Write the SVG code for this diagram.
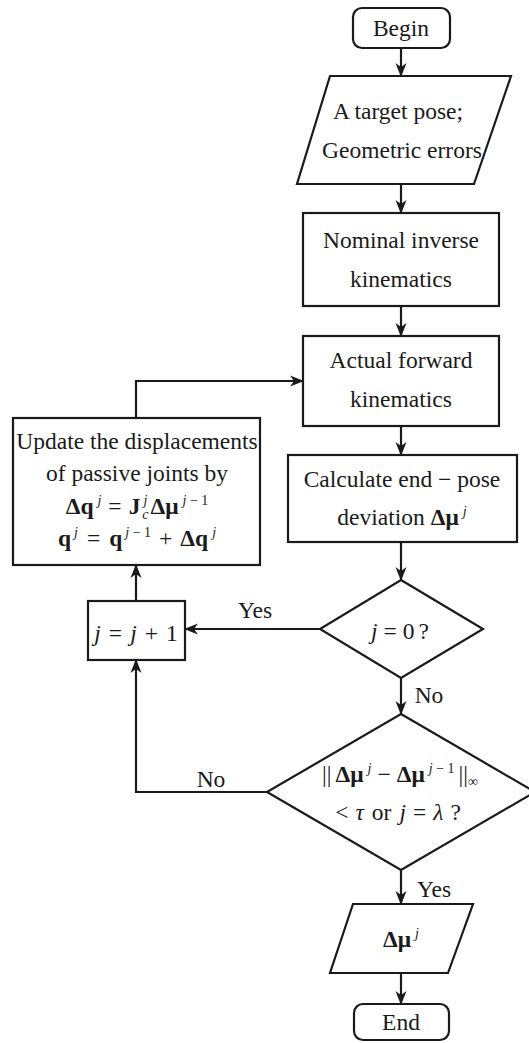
<svg xmlns="http://www.w3.org/2000/svg" width="529" height="1043" viewBox="0 0 529 1043">
<defs>
<marker id="ah" markerUnits="userSpaceOnUse" markerWidth="14" markerHeight="12" viewBox="0 0 14 12" refX="13" refY="6" orient="auto">
<path d="M0,0.5 L14,6 L0,11.5 L4,6 Z" fill="#1a1a1a"/>
</marker>
</defs>
<style>
.s{fill:#fff;stroke:#1a1a1a;stroke-width:2.2}
.c{fill:none;stroke:#1a1a1a;stroke-width:2.2;marker-end:url(#ah)}
text{font-family:'Liberation Serif','Times New Roman',serif;font-size:23.5px;fill:#1a1a1a;text-anchor:middle}
.i{font-style:italic}
.b{font-weight:bold}
.sup{font-size:14px;font-style:italic}
.n{font-size:14px}
</style>
<rect width="529" height="1043" fill="#fff"/>
<g id="connectors">
<path class="c" d="M401,48 V76"/>
<path class="c" d="M401,184 V213"/>
<path class="c" d="M401,306 V336"/>
<path class="c" d="M401,426 V455"/>
<path class="c" d="M401,542 V580"/>
<path class="c" d="M320,629 H185"/>
<path class="c" d="M136,601 V565"/>
<path class="c" d="M136,418 V381 H303"/>
<path class="c" d="M401,678 V714"/>
<path class="c" d="M267,792 H136 V660"/>
<path class="c" d="M401,870 V904"/>
<path class="c" d="M401,973 V1004"/>
<text x="255" y="618">Yes</text>
<text x="429" y="703">No</text>
<text x="211" y="787">No</text>
<text x="434" y="897">Yes</text>
</g>
<g id="begin">
<rect class="s" x="353" y="8" width="97" height="40" rx="9"/>
<text x="401" y="36">Begin</text>
</g>
<g id="input">
<polygon class="s" points="330,76 511,76 474,184 297,184"/>
<text x="398" y="119">A target pose;</text>
<text x="402" y="158">Geometric errors</text>
</g>
<g id="nominal">
<rect class="s" x="303" y="213" width="196" height="93"/>
<text x="401" y="248">Nominal inverse</text>
<text x="401" y="287">kinematics</text>
</g>
<g id="actual">
<rect class="s" x="303" y="336" width="196" height="90"/>
<text x="401" y="368">Actual forward</text>
<text x="401" y="407">kinematics</text>
</g>
<g id="calc">
<rect class="s" x="288" y="455" width="229" height="87"/>
<text x="402" y="487">Calculate end − pose</text>
<text x="402" y="525">deviation <tspan class="b">Δμ</tspan><tspan class="sup" dx="4" dy="-9">j</tspan></text>
</g>
<g id="check0">
<polygon class="s" points="401,580 483,629 401,678 320,629"/>
<text x="400" y="639"><tspan class="i">j</tspan><tspan dx="6">=</tspan><tspan dx="6">0</tspan><tspan dx="4">?</tspan></text>
</g>
<g id="increment">
<rect class="s" x="88" y="601" width="97" height="59"/>
<text x="136" y="641"><tspan class="i">j</tspan><tspan dx="8">=</tspan><tspan class="i" dx="8">j</tspan><tspan dx="8">+</tspan><tspan dx="8">1</tspan></text>
</g>
<g id="update">
<rect class="s" x="13" y="418" width="247" height="147"/>
<text x="137" y="449">Update the displacements</text>
<text x="137" y="481">of passive joints by</text>
<text x="137" y="514"><tspan class="b">Δq</tspan><tspan class="sup" dx="4" dy="-9">j</tspan><tspan dx="7" dy="9">=</tspan><tspan class="b" dx="7">J</tspan><tspan class="sup" dx="3" dy="-9">j</tspan><tspan class="sup" dx="-5" dy="14">c</tspan><tspan class="b" dx="2" dy="-5">Δμ</tspan><tspan class="sup" dx="4" dy="-9">j</tspan><tspan class="n"> − 1</tspan></text>
<text x="137" y="546"><tspan class="b">q</tspan><tspan class="sup" dx="3" dy="-9">j</tspan><tspan dx="9" dy="9">=</tspan><tspan class="b" dx="9">q</tspan><tspan class="sup" dx="3" dy="-9">j</tspan><tspan class="n"> − 1</tspan><tspan dx="8" dy="9">+</tspan><tspan class="b" dx="8">Δq</tspan><tspan class="sup" dx="4" dy="-9">j</tspan></text>
</g>
<g id="converge">
<polygon class="s" points="401,714 535,792 401,870 267,792"/>
<text x="400" y="782">||<tspan class="b" dx="4">Δμ</tspan><tspan class="sup" dx="4" dy="-9">j</tspan><tspan dx="6" dy="9">−</tspan><tspan class="b" dx="6">Δμ</tspan><tspan class="sup" dx="4" dy="-9">j</tspan><tspan class="n"> − 1</tspan><tspan dx="4" dy="9">||</tspan><tspan class="n" dy="4">∞</tspan></text>
<text x="398" y="820">&lt;<tspan class="i" dx="7">τ</tspan><tspan dx="8">or</tspan><tspan class="i" dx="8">j</tspan><tspan dx="7">=</tspan><tspan class="i" dx="7">λ</tspan><tspan dx="7">?</tspan></text>
</g>
<g id="output">
<polygon class="s" points="353,904 473,904 448,973 330,973"/>
<text x="401" y="947"><tspan class="b">Δμ</tspan><tspan class="sup" dx="4" dy="-9">j</tspan></text>
</g>
<g id="end">
<rect class="s" x="354" y="1004" width="95" height="36" rx="9"/>
<text x="401" y="1030">End</text>
</g>
</svg>
